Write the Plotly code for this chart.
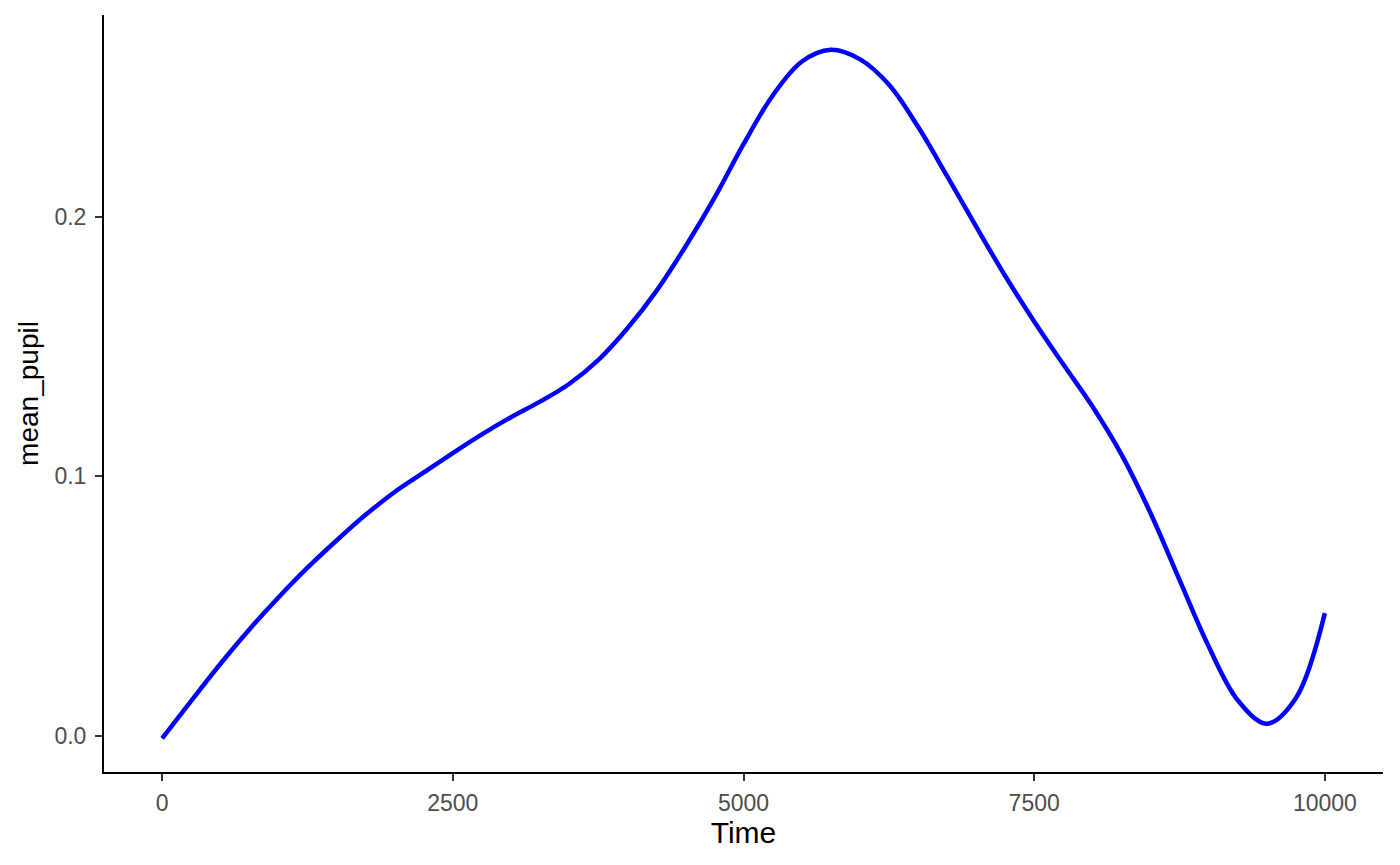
import plotly.graph_objects as go

time = [0, 250, 500, 750, 1000, 1250, 1500, 1750, 2000, 2250, 2500, 2750, 3000,
        3250, 3500, 3750, 4000, 4250, 4500, 4750, 5000, 5250, 5500, 5750, 6000,
        6250, 6500, 6750, 7000, 7250, 7500, 7750, 8000, 8250, 8500, 8750, 9000,
        9250, 9500, 9750, 10000]
mean_pupil = [-0.001, 0.0135, 0.0277, 0.0410, 0.0533, 0.0648, 0.0753, 0.0852, 0.0940,
              0.1015, 0.1090, 0.1162, 0.1228, 0.1288, 0.1356, 0.1448, 0.1570, 0.1714,
              0.1885, 0.2073, 0.2280, 0.2467, 0.2598, 0.2644, 0.2608, 0.2510, 0.2348,
              0.2158, 0.1963, 0.1773, 0.1597, 0.1432, 0.1270, 0.1085, 0.0859, 0.0601,
              0.0345, 0.0138, 0.0047, 0.0145, 0.0473]

x_ticks = [0, 2500, 5000, 7500, 10000]
x_ticklabels = ["0", "2500", "5000", "7500", "10000"]
y_ticks = [0.0, 0.1, 0.2]
y_ticklabels = ["0.0", "0.1", "0.2"]

fig = go.Figure()
fig.add_trace(go.Scatter(
    x=time, y=mean_pupil, mode="lines",
    line=dict(color="#0000FF", width=4.5, shape="spline", smoothing=1.0),
    showlegend=False, hoverinfo="x+y",
))

font_family = "Liberation Sans, Arial, Helvetica, sans-serif"

# page body has an 8px default margin: figure sized to fit the 1400x865 window
fig.update_layout(
    width=1392, height=857,
    paper_bgcolor="white", plot_bgcolor="white",
    margin=dict(l=96, r=17, t=7, b=93, autoexpand=False),
    font=dict(family=font_family, color="black"),
    xaxis=dict(
        range=[-500, 10500],
        tickvals=x_ticks, ticktext=x_ticklabels,
        showgrid=False, zeroline=False,
        showline=True, linecolor="black", linewidth=2,
        ticks="outside", ticklen=7, tickwidth=2, tickcolor="#333333",
        tickfont=dict(size=23, color="#4D4D4D", family=font_family),
        ticklabelstandoff=2,
        title=dict(text="Time", font=dict(size=30, color="black", family=font_family), standoff=5),
        automargin=False,
    ),
    yaxis=dict(
        range=[-0.01392, 0.2778],
        tickvals=y_ticks, ticktext=y_ticklabels,
        showgrid=False, zeroline=False,
        showline=True, linecolor="black", linewidth=2,
        ticks="outside", ticklen=7, tickwidth=2, tickcolor="#333333",
        tickfont=dict(size=23, color="#4D4D4D", family=font_family),
        ticklabelstandoff=4,
        title=dict(text="mean_pupil", font=dict(size=28, color="black", family=font_family), standoff=8),
        automargin=False,
    ),
)

fig.write_html("out.html")
